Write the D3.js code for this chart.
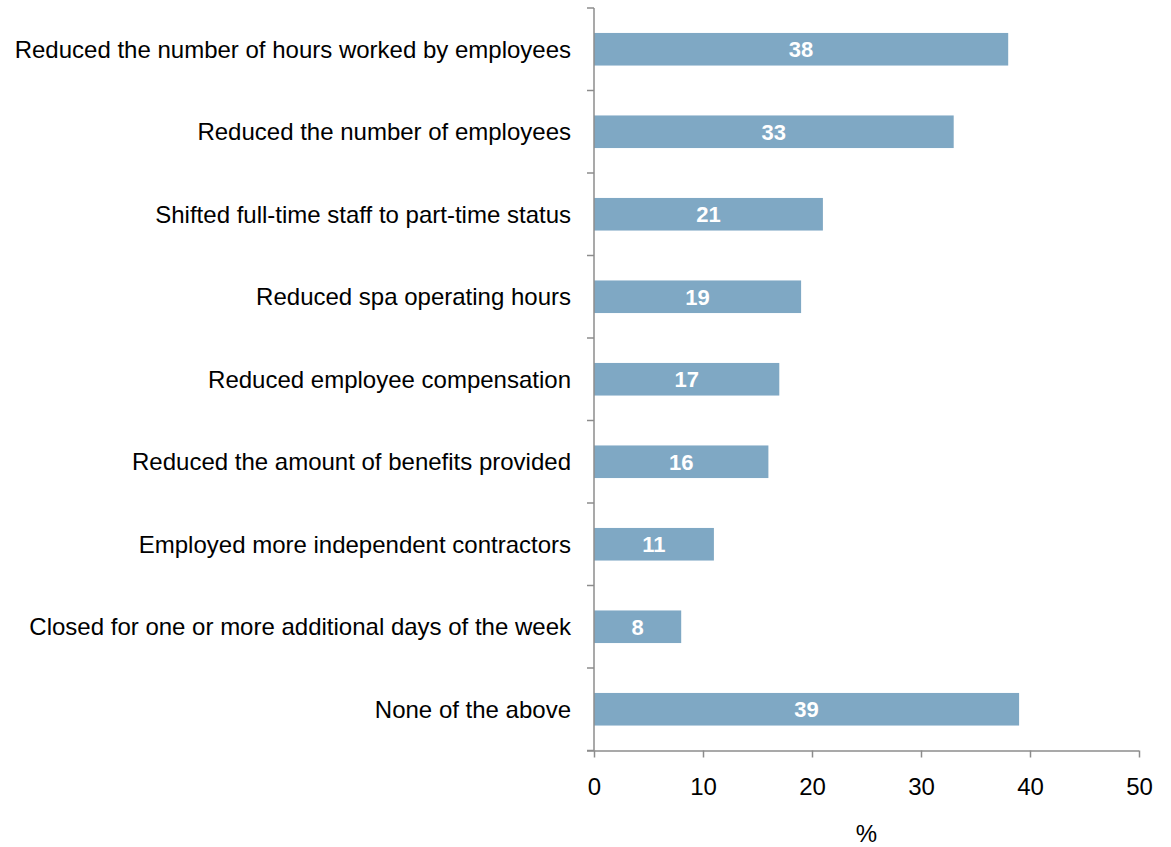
<!DOCTYPE html>
<html>
<head>
<meta charset="utf-8">
<script src="https://cdn.jsdelivr.net/npm/d3@7"></script>
<style>
  html, body { margin: 0; padding: 0; background: #fff; }
  svg { display: block; }
</style>
</head>
<body>
<svg id="chart" width="1171" height="847"></svg>
<script>
// Staffing actions taken, share of respondents (%)
const categories = [
  "Reduced the number of hours worked by employees",
  "Reduced the number of employees",
  "Shifted full-time staff to part-time status",
  "Reduced spa operating hours",
  "Reduced employee compensation",
  "Reduced the amount of benefits provided",
  "Employed more independent contractors",
  "Closed for one or more additional days of the week",
  "None of the above"
];
const values = [38, 33, 21, 19, 17, 16, 11, 8, 39];
const xTicks = [0, 10, 20, 30, 40, 50];
const xTitle = "%";

(function () {
  const svg = d3.select("#chart");
  const font = "'Liberation Sans', Arial, Helvetica, sans-serif";
  const axisColor = "#8c8c8c";
  const barColor = "#7FA8C4";

  const plotLeft = 594, plotRight = 1139, plotTop = 8, plotBottom = 750.5;

  const x = d3.scaleLinear().domain([0, 50]).range([plotLeft, plotRight]);
  const y = d3.scaleBand().domain(categories).range([plotTop, plotBottom])
    .paddingInner(0.605).paddingOuter(0.3025);

  // bars
  svg.append("g").selectAll("rect")
    .data(categories)
    .join("rect")
    .attr("x", x(0))
    .attr("y", d => y(d))
    .attr("width", (d, i) => x(values[i]) - x(0))
    .attr("height", y.bandwidth())
    .attr("fill", barColor);

  // value labels
  svg.append("g").selectAll("text")
    .data(categories)
    .join("text")
    .attr("x", (d, i) => (x(0) + x(values[i])) / 2)
    .attr("y", d => y(d) + y.bandwidth() / 2)
    .attr("dy", "0.36em")
    .attr("text-anchor", "middle")
    .attr("font-family", font)
    .attr("font-size", 22)
    .attr("font-weight", "bold")
    .attr("fill", "#fff")
    .text((d, i) => values[i]);

  // category axis: ticks at band boundaries
  const yAxis = svg.append("g");
  yAxis.append("line")
    .attr("x1", plotLeft).attr("x2", plotLeft)
    .attr("y1", plotTop).attr("y2", plotBottom)
    .attr("stroke", axisColor).attr("stroke-width", 1.5);
  const step = (plotBottom - plotTop) / categories.length;
  const boundaries = d3.range(categories.length + 1).map(i => plotTop + i * step);
  yAxis.selectAll("line.tick")
    .data(boundaries)
    .join("line")
    .attr("class", "tick")
    .attr("x1", plotLeft - 7).attr("x2", plotLeft)
    .attr("y1", d => d).attr("y2", d => d)
    .attr("stroke", axisColor).attr("stroke-width", 1.5);
  yAxis.selectAll("text")
    .data(categories)
    .join("text")
    .attr("x", 571)
    .attr("y", d => y(d) + y.bandwidth() / 2)
    .attr("dy", "0.35em")
    .attr("text-anchor", "end")
    .attr("font-family", font)
    .attr("font-size", 24)
    .attr("fill", "#000")
    .text(d => d);

  // value axis
  const xAxis = svg.append("g").attr("transform", `translate(0,${plotBottom})`)
    .call(d3.axisBottom(x).tickValues(xTicks).tickSize(7).tickPadding(20));
  xAxis.select(".domain").attr("stroke", axisColor).attr("stroke-width", 1.5)
    .attr("d", `M${plotLeft - 7},0.5H${plotRight}`);
  xAxis.selectAll(".tick line").attr("stroke", axisColor).attr("stroke-width", 1.5);
  xAxis.selectAll(".tick text")
    .attr("font-family", font)
    .attr("font-size", 24)
    .attr("fill", "#000");

  svg.append("text")
    .attr("x", (plotLeft + plotRight) / 2)
    .attr("y", 834)
    .attr("dy", "0.35em")
    .attr("text-anchor", "middle")
    .attr("font-family", font)
    .attr("font-size", 24)
    .attr("fill", "#000")
    .text(xTitle);
})();
</script>
</body>
</html>
